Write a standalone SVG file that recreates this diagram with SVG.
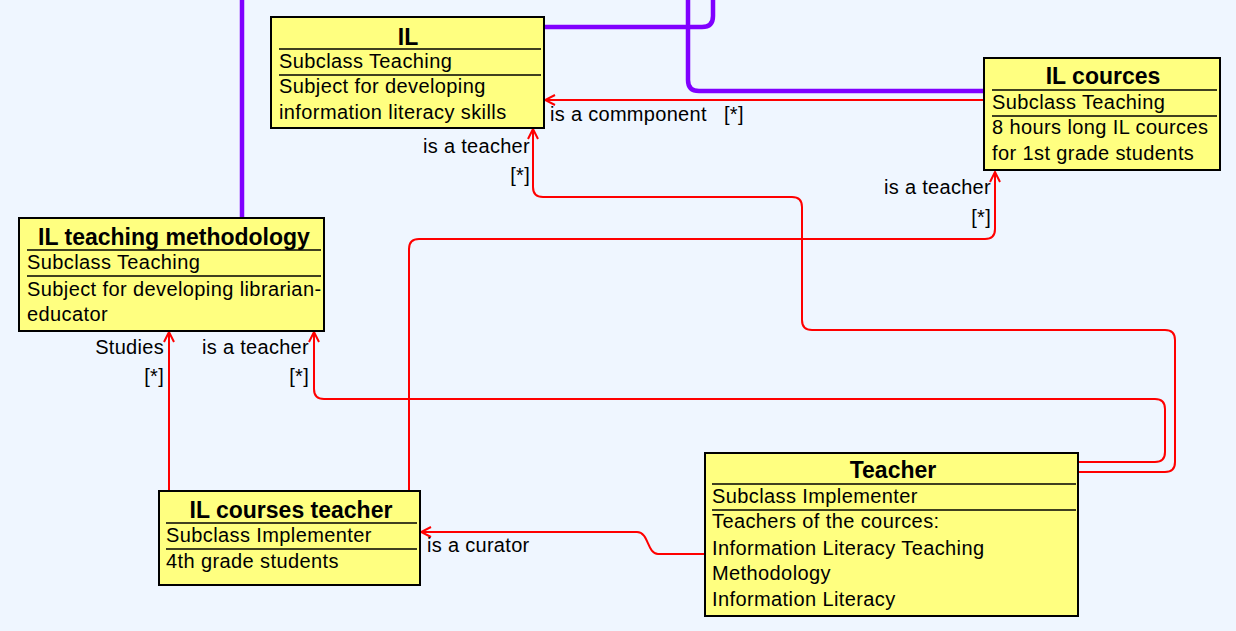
<svg xmlns="http://www.w3.org/2000/svg" width="1236" height="631" viewBox="0 0 1236 631">
<style>
.box{fill:#ffff80;stroke:#000;stroke-width:2}
.sep{stroke:#000;stroke-width:1.5}
.t{font-family:"Liberation Sans",Arial,sans-serif;font-size:20px;fill:#000;letter-spacing:0.4px}
.h{font-family:"Liberation Sans",Arial,sans-serif;font-size:23px;font-weight:bold;fill:#000;text-anchor:middle}
.lbl{font-family:"Liberation Sans",Arial,sans-serif;font-size:20px;fill:#000;letter-spacing:0.3px}
.r{text-anchor:end}
.red{fill:none;stroke:#ff0000;stroke-width:2;marker-end:url(#arr)}
.pur{fill:none;stroke:#8000ff;stroke-width:4.5}
</style>
<defs>
<marker id="arr" viewBox="0 0 12 12" refX="11" refY="6" markerWidth="12" markerHeight="12" markerUnits="userSpaceOnUse" orient="auto">
<path d="M1,1 L11,6 L1,11" fill="none" stroke="#ff0000" stroke-width="2"/>
</marker>
</defs>
<rect x="0" y="0" width="1236" height="631" fill="#eff6ff"/>
<g id="connectors">
<path class="pur" d="M242,0 V218"/>
<path class="pur" d="M544,27 H702 Q713,27 713,16 V0"/>
<path class="pur" d="M984,91 H699 Q688,91 688,80 V0"/>
<path class="red" d="M984,100 H545"/>
<path class="red" d="M1078,472 H1165 Q1175,472 1175,462 V340 Q1175,330 1165,330 H812 Q802,330 802,320 V207 Q802,197 792,197 H543 Q533,197 533,187 V129"/>
<path class="red" d="M1078,462 H1155 Q1165,462 1165,452 V409 Q1165,399 1155,399 H324 Q314,399 314,389 V332"/>
<path class="red" d="M409,491 V249 Q409,239 419,239 H985 Q995,239 995,229 V172"/>
<path class="red" d="M169,491 V332"/>
<path class="red" d="M705,554 H658 C647,554 649,532 637,532 H421"/>
<text class="lbl" x="550" y="121">is a commponent</text>
<text class="lbl" x="724" y="121">[*]</text>
<text class="lbl r" x="530" y="153">is a teacher</text>
<text class="lbl r" x="530" y="182">[*]</text>
<text class="lbl r" x="991" y="194">is a teacher</text>
<text class="lbl r" x="991" y="224">[*]</text>
<text class="lbl r" x="164" y="354">Studies</text>
<text class="lbl r" x="164" y="383">[*]</text>
<text class="lbl r" x="309" y="354">is a teacher</text>
<text class="lbl r" x="309" y="383">[*]</text>
<text class="lbl" x="427" y="552">is a curator</text>
</g>
<g id="node-IL">
<rect class="box" x="271" y="17" width="273" height="111"/>
<text class="h" x="408" y="45">IL</text>
<line class="sep" x1="279" y1="49" x2="541" y2="49"/>
<text class="t" x="279" y="68">Subclass Teaching</text>
<line class="sep" x1="279" y1="75" x2="541" y2="75"/>
<text class="t" x="279" y="93">Subject for developing</text>
<text class="t" x="279" y="119">information literacy skills</text>
</g>
<g id="node-IL-cources">
<rect class="box" x="984" y="58" width="236" height="112"/>
<text class="h" x="1103" y="84">IL cources</text>
<line class="sep" x1="992" y1="90" x2="1217" y2="90"/>
<text class="t" x="992" y="109">Subclass Teaching</text>
<line class="sep" x1="992" y1="116" x2="1217" y2="116"/>
<text class="t" x="992" y="134">8 hours long IL cources</text>
<text class="t" x="992" y="160">for 1st grade students</text>
</g>
<g id="node-IL-teaching-methodology">
<rect class="box" x="19" y="218" width="305" height="113"/>
<text class="h" x="174" y="245">IL teaching methodology</text>
<line class="sep" x1="27" y1="250" x2="321" y2="250"/>
<text class="t" x="27" y="269">Subclass Teaching</text>
<line class="sep" x1="27" y1="276" x2="321" y2="276"/>
<text class="t" x="27" y="296">Subject for developing librarian-</text>
<text class="t" x="27" y="321">educator</text>
</g>
<g id="node-IL-courses-teacher">
<rect class="box" x="159" y="491" width="261" height="94"/>
<text class="h" x="291" y="518">IL courses teacher</text>
<line class="sep" x1="166" y1="523" x2="417" y2="523"/>
<text class="t" x="166" y="542">Subclass Implementer</text>
<line class="sep" x1="166" y1="549" x2="417" y2="549"/>
<text class="t" x="166" y="568">4th grade students</text>
</g>
<g id="node-Teacher">
<rect class="box" x="705" y="453" width="373" height="163"/>
<text class="h" x="893" y="478">Teacher</text>
<line class="sep" x1="712" y1="484" x2="1076" y2="484"/>
<text class="t" x="712" y="503">Subclass Implementer</text>
<line class="sep" x1="712" y1="510" x2="1076" y2="510"/>
<text class="t" x="712" y="528">Teachers of the cources:</text>
<text class="t" x="712" y="555">Information Literacy Teaching</text>
<text class="t" x="712" y="580">Methodology</text>
<text class="t" x="712" y="606">Information Literacy</text>
</g>
</svg>
